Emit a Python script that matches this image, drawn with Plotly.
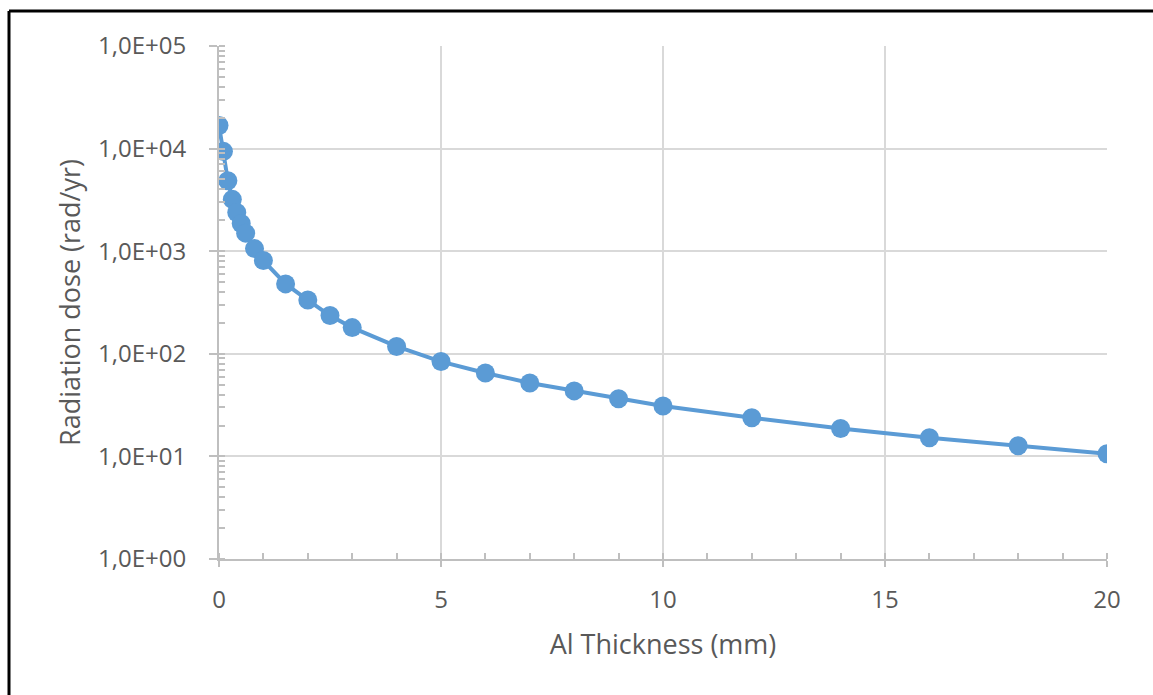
import plotly.graph_objects as go

thickness_mm = [0, 0.1, 0.2, 0.3, 0.4, 0.5, 0.6, 0.8, 1.0, 1.5, 2, 2.5, 3, 4, 5, 6, 7, 8, 9, 10, 12, 14, 16, 18, 20]
dose_rad_yr = [16800, 9400, 4850, 3200, 2380, 1860, 1500, 1060, 810, 480, 334, 236, 180, 118, 84, 65, 52, 43.5, 36.5, 31, 23.8, 18.7, 15.2, 12.7, 10.6]

y_tickvals = [1, 10, 100, 1000, 10000, 100000]
y_ticktext = ["1,0E+00", "1,0E+01", "1,0E+02", "1,0E+03", "1,0E+04", "1,0E+05"]
x_tickvals = [0, 5, 10, 15, 20]

W, H = 1153, 695
L, R, T, B = 219, 1107, 46, 559

font_family = "Open Sans, Liberation Sans, sans-serif"
txt = "#595959"
grid = "#d9d9d9"
axis = "#bfbfbf"

fig = go.Figure()
fig.add_trace(go.Scatter(
    x=thickness_mm, y=dose_rad_yr, mode="lines+markers",
    line=dict(color="#5B9BD5", width=4),
    marker=dict(color="#5B9BD5", size=19),
    showlegend=False,
))

fig.update_layout(
    width=W, height=H,
    margin=dict(l=L, r=W - R, t=T, b=H - B),
    paper_bgcolor="white", plot_bgcolor="white",
    font=dict(family=font_family, color=txt, size=24),
    xaxis=dict(
        range=[0, 20], tickvals=x_tickvals, showgrid=True, gridcolor=grid, gridwidth=2,
        showline=True, linecolor=axis, linewidth=2, ticks="outside", ticklen=6,
        tickcolor=axis, tickwidth=2, zeroline=False, ticklabelstandoff=12,
        minor=dict(dtick=1, ticks="inside", ticklen=6, tickcolor=axis, tickwidth=2, showgrid=False),
        tickfont=dict(size=24, color=txt),
        title=dict(text="Al Thickness (mm)", font=dict(size=27, color=txt), standoff=21),
    ),
    yaxis=dict(
        type="log", range=[0, 5], tickvals=y_tickvals, ticktext=y_ticktext,
        showgrid=True, gridcolor=grid, gridwidth=2,
        showline=True, linecolor=axis, linewidth=2, ticks="outside", ticklen=8,
        tickcolor=axis, tickwidth=2, zeroline=False, ticklabelstandoff=18,
        minor=dict(dtick="D1", ticks="inside", ticklen=6, tickcolor=axis, tickwidth=2, showgrid=False),
        tickfont=dict(size=24, color=txt),
        title=dict(text="Radiation dose (rad/yr)", font=dict(size=27, color=txt), standoff=10),
    ),
    shapes=[
        dict(type="line", xref="paper", yref="paper",
             x0=(9 - L) / (R - L), x1=(W + 20 - L) / (R - L),
             y0=(B - 11) / (B - T), y1=(B - 11) / (B - T),
             line=dict(color="black", width=3)),
        dict(type="line", xref="paper", yref="paper",
             x0=(9 - L) / (R - L), x1=(9 - L) / (R - L),
             y0=(B - 11) / (B - T), y1=(B - H - 20) / (B - T),
             line=dict(color="black", width=3)),
    ],
)

fig.write_html("out.html")
